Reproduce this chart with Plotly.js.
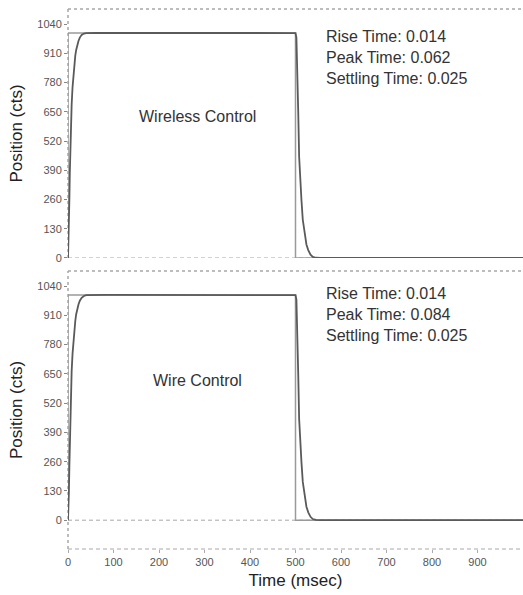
<!DOCTYPE html>
<html>
<head>
<meta charset="utf-8">
<script src="https://cdn.plot.ly/plotly-3.0.1.min.js"></script>
<style>html,body{margin:0;padding:0;background:#fff;}#chart{width:523px;height:595px;}</style>
</head>
<body>
<div id="chart"></div>
<script>
// Command (reference step)
const tCommand = [0, 0, 500, 500, 1000];
const posCommand = [0, 1000, 1000, 0, 0];

// Wireless control response
const tWireless = [0,1,2,3,4,5,6,7,8,10,12,14,16,18,20,23,26,30,35,40,62,500,502,504,506,508,510,513,516,520,524,528,533,538,545,555,1000];
const posWireless = [0,60,150,260,380,470,550,620,680,760,820,865,900,925,945,965,980,992,998,1000,1001,1000,980,850,650,450,360,260,170,110,60,35,15,5,1,0,0];

// Wire control response
const tWire = [0,1,2,3,4,5,6,7,8,10,12,14,16,18,20,23,26,30,35,40,84,500,502,504,506,508,510,513,516,520,524,528,533,538,545,555,1000];
const posWire = [0,50,130,240,350,450,530,600,660,740,800,850,885,915,935,958,975,988,996,1000,1001,1000,980,850,650,450,360,260,170,110,60,35,15,5,1,0,0];

const yTicks = [0,130,260,390,520,650,780,910,1040];
const xTicks = [0,100,200,300,400,500,600,700,800,900];

const panelTitles = ["Wireless Control", "Wire Control"];
const statsWireless = ["Rise Time: 0.014", "Peak Time: 0.062", "Settling Time: 0.025"];
const statsWire = ["Rise Time: 0.014", "Peak Time: 0.084", "Settling Time: 0.025"];

const cmdColor = '#9a9a9a';
const respColor = '#5a5a5a';
const borderColor = '#a8a8a8';
const font = "Liberation Sans, Arial, sans-serif";

const traces = [
  {x: tCommand, y: posCommand, xaxis: 'x', yaxis: 'y', mode: 'lines', line: {color: cmdColor, width: 1.5}, hoverinfo: 'skip'},
  {x: tWireless, y: posWireless, xaxis: 'x', yaxis: 'y', mode: 'lines', line: {color: respColor, width: 1.8}, hoverinfo: 'skip'},
  {x: tCommand, y: posCommand, xaxis: 'x2', yaxis: 'y2', mode: 'lines', line: {color: cmdColor, width: 1.5}, hoverinfo: 'skip'},
  {x: tWire, y: posWire, xaxis: 'x2', yaxis: 'y2', mode: 'lines', line: {color: respColor, width: 1.8}, hoverinfo: 'skip'}
];

const yCommon = {
  tickvals: yTicks, ticktext: yTicks.map(String),
  ticks: 'outside', ticklen: 3, tickcolor: '#888', tickwidth: 1,
  tickfont: {family: font, size: 11, color: '#555'},
  showgrid: false, zeroline: false, showline: false,
  title: {text: 'Position (cts)', font: {family: font, size: 17, color: '#222'}, standoff: 10}
};
const xCommon = {
  range: [0, 1000], tickvals: xTicks,
  showgrid: false, zeroline: false, showline: false,
  ticks: 'outside', ticklen: 3, tickcolor: '#aaa',
  tickfont: {family: font, size: 11, color: '#555'}
};

const dashStyle = '4px,3px';

const layout = {
  width: 523, height: 595,
  margin: {l: 68, r: 0, t: 9, b: 46},
  paper_bgcolor: '#fff', plot_bgcolor: '#fff',
  showlegend: false,
  xaxis: Object.assign({}, xCommon, {anchor: 'y', showticklabels: false, ticks: ''}),
  yaxis: Object.assign({}, yCommon, {domain: [0.5389, 1], range: [0, 1107]}),
  xaxis2: Object.assign({}, xCommon, {anchor: 'y2',
    title: {text: 'Time (msec)', font: {family: font, size: 17, color: '#222'}, standoff: 6}}),
  yaxis2: Object.assign({}, yCommon, {domain: [0, 0.5148], range: [-128, 1107]}),
  shapes: [
    // top panel borders
    {type: 'line', xref: 'x domain', yref: 'y domain', x0: 0, x1: 1, y0: 1, y1: 1, line: {color: borderColor, width: 1.5, dash: 'dot'}, layer: 'below'},
    {type: 'line', xref: 'x domain', yref: 'y domain', x0: 0, x1: 0, y0: 0, y1: 1, line: {color: borderColor, width: 1.5, dash: 'dot'}, layer: 'below'},
    {type: 'line', xref: 'x domain', yref: 'y', x0: 0, x1: 1, y0: 0, y1: 0, line: {color: borderColor, width: 1, dash: dashStyle}, layer: 'below'},
    // bottom panel borders
    {type: 'line', xref: 'x2 domain', yref: 'y2 domain', x0: 0, x1: 1, y0: 1, y1: 1, line: {color: borderColor, width: 1.5, dash: 'dot'}, layer: 'below'},
    {type: 'line', xref: 'x2 domain', yref: 'y2 domain', x0: 0, x1: 0, y0: 0, y1: 1, line: {color: borderColor, width: 1.5, dash: 'dot'}, layer: 'below'},
    {type: 'line', xref: 'x2 domain', yref: 'y2 domain', x0: 0, x1: 1, y0: 0, y1: 0, line: {color: borderColor, width: 1, dash: dashStyle}, layer: 'below'},
    {type: 'line', xref: 'x2 domain', yref: 'y2', x0: 0, x1: 1, y0: 0, y1: 0, line: {color: borderColor, width: 1, dash: dashStyle}, layer: 'below'}
  ],
  annotations: [
    {text: panelTitles[0], xref: 'x', yref: 'y', x: 285, y: 630, showarrow: false, font: {family: font, size: 16, color: '#333'}},
    {text: panelTitles[1], xref: 'x2', yref: 'y2', x: 285, y: 620, showarrow: false, font: {family: font, size: 16, color: '#333'}},
    {text: statsWireless.join('<br>'), xref: 'x', yref: 'y', x: 562, y: 1030, xanchor: 'left', yanchor: 'top', align: 'left', showarrow: false, font: {family: font, size: 16, color: '#333'}},
    {text: statsWire.join('<br>'), xref: 'x2', yref: 'y2', x: 562, y: 1053, xanchor: 'left', yanchor: 'top', align: 'left', showarrow: false, font: {family: font, size: 16, color: '#333'}}
  ]
};

Plotly.newPlot('chart', traces, layout, {staticPlot: true, displayModeBar: false});
</script>
</body>
</html>
